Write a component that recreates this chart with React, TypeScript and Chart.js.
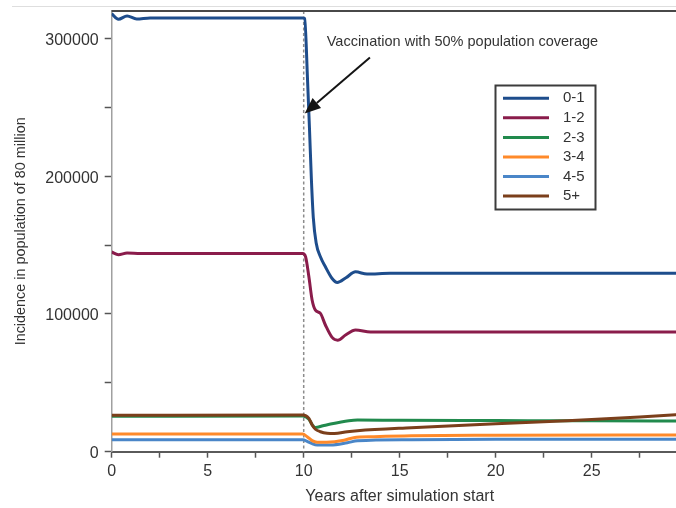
import { useEffect, useRef } from "react";
import { Chart, registerables } from "chart.js";

Chart.register(...registerables);

const FONT = "'Liberation Sans', Arial, Helvetica, sans-serif";
const TEXT = "#333333";

const ageGroups = ["0-1", "1-2", "2-3", "3-4", "4-5", "5+"];
const lineColors = ["#1e4d8c", "#8a1c4b", "#218a4d", "#ff8a2a", "#4a86c8", "#7b3f1b"];

// Years after simulation start and incidence (cases) per age group
const years01 = [0, 0.35, 0.8, 1.3, 2, 9.95, 10.05, 10.2, 10.3, 10.4, 10.5, 10.65, 10.87, 11.13, 11.48, 11.75, 12.2, 12.7, 13.3, 14.5, 30];
const cases01 = [318000, 314000, 316400, 314200, 315000, 315000, 314500, 270000, 235000, 198000, 170000, 151500, 141500, 134300, 125800, 122900, 126300, 130600, 129000, 129500, 129500];

const years12 = [0, 0.35, 0.8, 1.5, 9.95, 10.1, 10.27, 10.44, 10.61, 10.87, 11.13, 11.48, 11.77, 12.18, 12.7, 13.48, 15, 30];
const cases12 = [145000, 143000, 144300, 144000, 144000, 141500, 127000, 110000, 102800, 100400, 92000, 83000, 81000, 84700, 88300, 86900, 87000, 87000];

const years23 = [0, 9.95, 10.27, 10.45, 10.6, 11.0, 11.4, 12.35, 12.8, 15, 20, 25, 30];
const cases23 = [25700, 25900, 23500, 19500, 17500, 18800, 20100, 22500, 23000, 22800, 22600, 22400, 22300];

const years34 = [0, 9.95, 10.18, 10.44, 10.7, 11.2, 12.1, 12.6, 13.66, 15.6, 20, 30];
const cases34 = [12800, 12800, 10900, 8000, 6900, 6900, 8300, 10200, 10900, 11600, 11900, 12100];

const years45 = [0, 9.95, 10.18, 10.44, 10.7, 11.4, 12.27, 12.8, 15.6, 20, 30];
const cases45 = [8700, 8700, 7500, 5800, 4900, 4900, 6500, 7900, 8700, 9000, 9100];

const years5p = [0, 9.95, 10.27, 10.44, 10.61, 10.87, 11.22, 11.6, 12.27, 12.8, 15.6, 20, 23.4, 25, 27.5, 30];
const cases5p = [26400, 26600, 24200, 19400, 16300, 14500, 13400, 13200, 14500, 15200, 17400, 20300, 22300, 23300, 25200, 27400];

const seriesYears = [years01, years12, years23, years34, years45, years5p];
const seriesCases = [cases01, cases12, cases23, cases34, cases45, cases5p];

// tick marks (every half step) and the subset that carries a label
const yTickValues = [0, 50000, 100000, 150000, 200000, 250000, 300000];
const yLabelValues = [0, 100000, 200000, 300000];
const xTickValues = [0, 2.5, 5, 7.5, 10, 12.5, 15, 17.5, 20, 22.5, 25, 27.5, 30];
const xLabelValues = [0, 5, 10, 15, 20, 25];

const vaccinationYear = 10;
const annotationText = "Vaccination with 50% population coverage";
// annotation anchor points in data units (year, incidence)
const arrowTip = [10.05, 245600];
const arrowTail = [13.45, 286200];
const textAnchor = [11.2, 297500];

const decorPlugin = {
  id: "decor",
  beforeDatasetsDraw(chart: any) {
    const { ctx, chartArea, scales } = chart;
    const x = scales.x.getPixelForValue(vaccinationYear);
    ctx.save();
    ctx.strokeStyle = "#8c8c8c";
    ctx.lineWidth = 1.5;
    ctx.setLineDash([3, 2.5]);
    ctx.beginPath();
    ctx.moveTo(x, chartArea.top);
    ctx.lineTo(x, chartArea.bottom);
    ctx.stroke();
    ctx.restore();
  },
  afterDraw(chart: any) {
    const { ctx, chartArea, scales, width } = chart;
    const xs = scales.x, ys = scales.y;
    ctx.save();

    // faint page rule and top frame of the plot
    ctx.strokeStyle = "#dedede";
    ctx.lineWidth = 1;
    ctx.beginPath();
    ctx.moveTo(12, 6.5);
    ctx.lineTo(width, 6.5);
    ctx.stroke();

    ctx.strokeStyle = "#484848";
    ctx.lineWidth = 2;
    ctx.beginPath();
    ctx.moveTo(chartArea.left, chartArea.top);
    ctx.lineTo(width, chartArea.top);
    ctx.stroke();

    // annotation text
    ctx.fillStyle = TEXT;
    ctx.font = `14.5px ${FONT}`;
    ctx.textAlign = "left";
    ctx.textBaseline = "middle";
    ctx.fillText(annotationText, xs.getPixelForValue(textAnchor[0]), ys.getPixelForValue(textAnchor[1]));

    // arrow
    const tx = xs.getPixelForValue(arrowTip[0]);
    const ty = ys.getPixelForValue(arrowTip[1]);
    const sx = xs.getPixelForValue(arrowTail[0]);
    const sy = ys.getPixelForValue(arrowTail[1]);
    const ang = Math.atan2(ty - sy, tx - sx);
    const headLen = 16;
    const headHalf = 6.5;
    const bx = tx - headLen * Math.cos(ang);
    const by = ty - headLen * Math.sin(ang);
    ctx.strokeStyle = "#141414";
    ctx.fillStyle = "#141414";
    ctx.lineWidth = 2;
    ctx.beginPath();
    ctx.moveTo(sx, sy);
    ctx.lineTo(bx, by);
    ctx.stroke();
    ctx.beginPath();
    ctx.moveTo(tx, ty);
    ctx.lineTo(bx + headHalf * Math.sin(ang), by - headHalf * Math.cos(ang));
    ctx.lineTo(bx - headHalf * Math.sin(ang), by + headHalf * Math.cos(ang));
    ctx.closePath();
    ctx.fill();

    // legend box
    const lx = 495.5, ly = 85.5, lw = 100, lh = 124;
    ctx.fillStyle = "#ffffff";
    ctx.fillRect(lx, ly, lw, lh);
    ctx.strokeStyle = "#3c3c3c";
    ctx.lineWidth = 2;
    ctx.strokeRect(lx, ly, lw, lh);
    ctx.font = `15px ${FONT}`;
    ctx.textBaseline = "middle";
    chart.data.datasets.forEach((ds: any, i: number) => {
      const y = 98.3 + i * 19.55;
      ctx.strokeStyle = ds.borderColor;
      ctx.lineWidth = 3;
      ctx.beginPath();
      ctx.moveTo(503, y);
      ctx.lineTo(549, y);
      ctx.stroke();
      ctx.fillStyle = TEXT;
      ctx.fillText(ds.label, 563, y);
    });

    ctx.restore();
  },
};

export default function App() {
  const ref = useRef<HTMLCanvasElement>(null);

  useEffect(() => {
    if (!ref.current) return;
    const chart = new Chart(ref.current, {
      type: "line",
      data: {
        datasets: ageGroups.map((label, i) => ({
          label,
          data: seriesYears[i].map((x, k) => ({ x, y: seriesCases[i][k] })),
          borderColor: lineColors[i],
          backgroundColor: lineColors[i],
          borderWidth: 3,
          pointRadius: 0,
          fill: false,
          cubicInterpolationMode: "monotone" as const,
          order: label === "2-3" ? 1 : 0,
        })),
      },
      options: {
        animation: false,
        responsive: false,
        devicePixelRatio: 1,
        layout: { padding: { top: 11, right: 12.3, left: 0, bottom: 0 } },
        plugins: { legend: { display: false }, tooltip: { enabled: false } },
        scales: {
          x: {
            type: "linear",
            min: 0,
            max: 30,
            afterFit(s: any) {
              s.height = 56.3;
              s.paddingLeft = 0;
              s.paddingRight = 0;
            },
            afterBuildTicks(s: any) {
              s.ticks = xTickValues.map((value) => ({ value }));
            },
            ticks: {
              autoSkip: false,
              maxRotation: 0,
              padding: 4,
              color: TEXT,
              font: { family: FONT, size: 16 },
              callback: (v: any) => (xLabelValues.includes(Number(v)) ? String(v) : ""),
            },
            grid: { drawOnChartArea: false, tickLength: 6, color: "#555555", tickWidth: 1.5 },
            border: { color: "#5a5a5a", width: 2 },
            title: {
              display: true,
              text: "Years after simulation start",
              color: TEXT,
              font: { family: FONT, size: 16 },
              padding: { top: 0, bottom: 2 },
            },
          },
          y: {
            type: "linear",
            min: 0,
            max: 320000,
            afterFit(s: any) {
              s.width = 111.7;
              s.paddingTop = 0;
              s.paddingBottom = 0;
            },
            afterBuildTicks(s: any) {
              s.ticks = yTickValues.map((value) => ({ value }));
            },
            ticks: {
              autoSkip: false,
              padding: 6,
              labelOffset: 2,
              color: TEXT,
              font: { family: FONT, size: 16 },
              callback: (v: any) => (yLabelValues.includes(Number(v)) ? String(v) : ""),
            },
            grid: { drawOnChartArea: false, tickLength: 7, color: "#555555", tickWidth: 1.5 },
            border: { color: "#a0a0a0", width: 1.5 },
            title: {
              display: true,
              text: "Incidence in population of 80 million",
              color: TEXT,
              font: { family: FONT, size: 14.4 },
              padding: { top: 12, bottom: 0 },
            },
          },
        },
      },
      plugins: [decorPlugin],
    } as any);
    return () => chart.destroy();
  }, []);

  return (
    <div
      style={{
        position: "fixed",
        left: 0,
        top: 0,
        width: 676,
        height: 508,
        overflow: "hidden",
        background: "#ffffff",
      }}
    >
      <canvas ref={ref} width={700} height={508} style={{ display: "block", width: 700, height: 508 }} />
    </div>
  );
}
